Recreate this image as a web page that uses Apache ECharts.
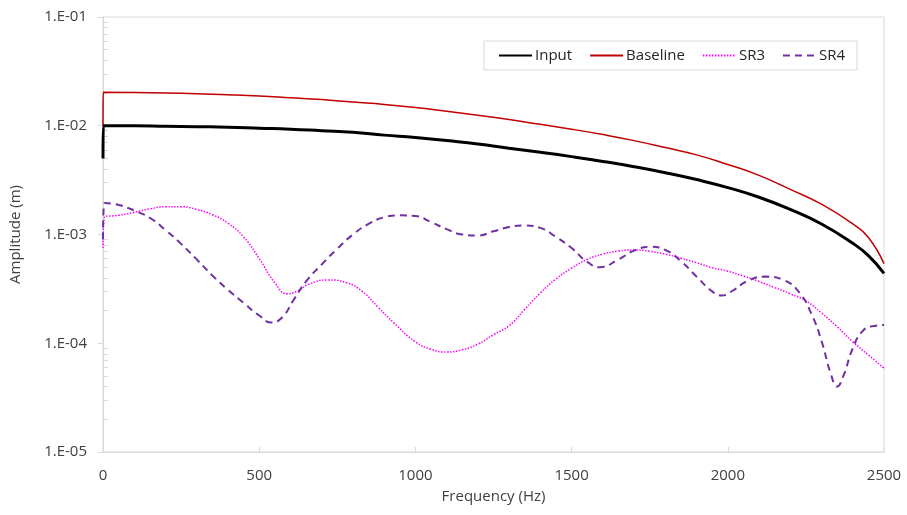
<!DOCTYPE html>
<html>
<head>
<meta charset="utf-8">
<script src="https://cdn.jsdelivr.net/npm/echarts@6/dist/echarts.min.js"></script>
<style>
  html, body { margin: 0; padding: 0; background: #ffffff; }
  #chart { width: 907px; height: 515px; }
</style>
</head>
<body>
<div id="chart"></div>
<script>
// Frequency response amplitudes (m) against frequency (Hz)
const inputFreq = [0, 1, 100, 200, 300, 400, 500, 600, 700, 800, 900, 1000, 1100, 1200, 1300, 1400, 1500, 1600, 1700, 1800, 1900, 2000, 2100, 2200, 2300, 2400, 2450, 2500];
const inputAmp = [0.0050, 0.0100, 0.0100, 0.0099, 0.0098, 0.0097, 0.0095, 0.0093, 0.0090, 0.0087, 0.0082, 0.0078, 0.0073, 0.0068, 0.0062, 0.0057, 0.0052, 0.0047, 0.0042, 0.0037, 0.0032, 0.0027, 0.0022, 0.0017, 0.00125, 0.00083, 0.00064, 0.00044];

const baselineFreq = [0, 1, 100, 200, 300, 400, 500, 600, 700, 800, 900, 1000, 1100, 1200, 1300, 1400, 1500, 1600, 1700, 1800, 1900, 2000, 2100, 2200, 2300, 2400, 2450, 2500];
const baselineAmp = [0.0100, 0.0203, 0.0202, 0.0200, 0.0197, 0.0193, 0.0188, 0.0181, 0.0174, 0.0165, 0.0157, 0.0147, 0.0136, 0.0125, 0.0114, 0.0103, 0.0093, 0.0083, 0.0073, 0.0063, 0.0054, 0.0044, 0.0035, 0.0026, 0.0019, 0.00125, 0.00094, 0.00054];

const sr3Freq = [0, 5, 50, 100, 150, 200, 250, 300, 350, 400, 450, 500, 550, 590, 620, 660, 720, 780, 830, 880, 930, 1000, 1050, 1100, 1150, 1200, 1250, 1300, 1350, 1400, 1450, 1500, 1550, 1600, 1650, 1700, 1750, 1800, 1850, 1900, 1950, 2000, 2050, 2100, 2150, 2200, 2250, 2300, 2350, 2400, 2450, 2500];
const sr3Amp = [7.5e-4, 1.45e-3, 1.5e-3, 1.6e-3, 1.72e-3, 1.8e-3, 1.8e-3, 1.7e-3, 1.52e-3, 1.27e-3, 9.5e-4, 6.0e-4, 3.6e-4, 2.85e-4, 3.0e-4, 3.5e-4, 3.82e-4, 3.6e-4, 3.0e-4, 2.15e-4, 1.55e-4, 1.03e-4, 8.8e-5, 8.3e-5, 8.7e-5, 9.8e-5, 1.2e-4, 1.45e-4, 2.05e-4, 2.9e-4, 3.9e-4, 4.9e-4, 5.9e-4, 6.6e-4, 7.05e-4, 7.2e-4, 7.0e-4, 6.6e-4, 6.05e-4, 5.5e-4, 4.95e-4, 4.6e-4, 4.15e-4, 3.7e-4, 3.25e-4, 2.85e-4, 2.45e-4, 1.9e-4, 1.42e-4, 1.03e-4, 7.8e-5, 5.9e-5];

const sr4Freq = [0, 5, 50, 100, 150, 200, 250, 300, 350, 400, 450, 500, 540, 575, 610, 650, 700, 750, 800, 850, 900, 950, 1000, 1050, 1100, 1150, 1200, 1250, 1300, 1350, 1400, 1450, 1500, 1550, 1590, 1650, 1700, 1750, 1800, 1850, 1900, 1950, 1980, 2020, 2060, 2120, 2180, 2230, 2270, 2300, 2330, 2350, 2370, 2400, 2430, 2460, 2500];
const sr4Amp = [9.0e-4, 1.95e-3, 1.87e-3, 1.66e-3, 1.42e-3, 1.1e-3, 8.2e-4, 5.9e-4, 4.2e-4, 3.1e-4, 2.35e-4, 1.8e-4, 1.55e-4, 1.75e-4, 2.5e-4, 3.7e-4, 5.3e-4, 7.4e-4, 1.0e-3, 1.25e-3, 1.44e-3, 1.5e-3, 1.48e-3, 1.3e-3, 1.12e-3, 1.0e-3, 9.8e-4, 1.07e-3, 1.17e-3, 1.21e-3, 1.15e-3, 9.5e-4, 7.5e-4, 5.6e-4, 5.0e-4, 5.9e-4, 7.1e-4, 7.7e-4, 7.2e-4, 5.7e-4, 4.1e-4, 3.0e-4, 2.75e-4, 3.1e-4, 3.7e-4, 4.1e-4, 3.8e-4, 2.9e-4, 1.8e-4, 1.05e-4, 5.2e-5, 4.0e-5, 5.0e-5, 9.0e-5, 1.28e-4, 1.43e-4, 1.47e-4];

// Log-axis minor tick positions (2..9 within each decade)
const minorTickValues = [];
for (let e = -5; e < -1; e++) {
  for (let m = 2; m <= 9; m++) minorTickValues.push(m * Math.pow(10, e));
}

function pairs(xs, ys) {
  return xs.map((x, i) => [x, ys[i]]);
}

function sciLabel(v) {
  const e = Math.round(Math.log10(v));
  const sign = e < 0 ? '-' : '+';
  return '1.E' + sign + String(Math.abs(e)).padStart(2, '0');
}

const FONT = 'Open Sans';
const TEXT = '#404040';
const AXIS = '#d9d9d9';

const chart = echarts.init(document.getElementById('chart'), null, { renderer: 'canvas' });

chart.setOption({
  animation: false,
  backgroundColor: '#ffffff',
  textStyle: { fontFamily: FONT },
  grid: {
    left: 103, right: 23, top: 17, bottom: 63,
    show: true, borderColor: AXIS, borderWidth: 1
  },
  legend: {
    left: 484, top: 41,
    padding: [7, 12, 7, 14],
    borderColor: AXIS, borderWidth: 1,
    itemWidth: 33, itemHeight: 14, itemGap: 17,
    // line-only legend samples (no point markers)
    itemStyle: { opacity: 0 },
    textStyle: { fontFamily: FONT, fontSize: 15, color: '#262626', padding: [0, 0, 0, -2] },
    data: ['Input', 'Baseline', 'SR3', 'SR4']
  },
  xAxis: {
    type: 'value',
    min: 0, max: 2500, interval: 500,
    name: 'Frequency (Hz)',
    nameLocation: 'middle', nameGap: 37,
    nameTextStyle: { fontFamily: FONT, fontSize: 15, color: TEXT },
    axisLine: { show: true, onZero: false, lineStyle: { color: AXIS, width: 1 } },
    axisTick: { show: true, inside: true, length: 5, lineStyle: { color: AXIS } },
    axisLabel: { fontFamily: FONT, fontSize: 15, color: TEXT, margin: 16, formatter: v => String(v) },
    splitLine: { show: false }
  },
  yAxis: [
    {
      type: 'log', logBase: 10,
      min: 1e-5, max: 1e-1,
      name: 'Amplitude (m)',
      nameLocation: 'middle', nameGap: 80,
      nameTextStyle: { fontFamily: FONT, fontSize: 15, color: TEXT },
      axisLine: { show: true, lineStyle: { color: AXIS, width: 1 } },
      axisTick: { show: true, inside: false, length: 5, lineStyle: { color: AXIS } },
      axisLabel: { fontFamily: FONT, fontSize: 15, color: TEXT, margin: 16, formatter: sciLabel },
      splitLine: { show: false }
    },
    {
      type: 'log', logBase: 10,
      min: 1e-5, max: 1e-1,
      position: 'left',
      axisLine: { show: false },
      axisTick: { show: true, inside: true, length: 5, customValues: minorTickValues, lineStyle: { color: AXIS } },
      axisLabel: { show: false },
      splitLine: { show: false }
    }
  ],
  series: [
    {
      name: 'Input', type: 'line', symbol: 'none', smooth: 0.5,
      color: '#000000',
      lineStyle: { color: '#000000', width: 3 },
      data: pairs(inputFreq, inputAmp), z: 4
    },
    {
      name: 'Baseline', type: 'line', symbol: 'none', smooth: 0.5,
      color: '#c00000',
      lineStyle: { color: '#c00000', width: 1.5 },
      data: pairs(baselineFreq, baselineAmp), z: 3
    },
    {
      name: 'SR3', type: 'line', symbol: 'none', smooth: 0.5,
      color: '#ff00ff',
      lineStyle: { color: '#ff00ff', width: 1.5, type: [1.5, 1.5] },
      data: pairs(sr3Freq, sr3Amp), z: 2
    },
    {
      name: 'SR4', type: 'line', symbol: 'none', smooth: 0.5,
      color: '#7030a0',
      lineStyle: { color: '#7030a0', width: 2, type: [7, 5] },
      data: pairs(sr4Freq, sr4Amp), z: 2
    }
  ]
});
</script>
</body>
</html>
